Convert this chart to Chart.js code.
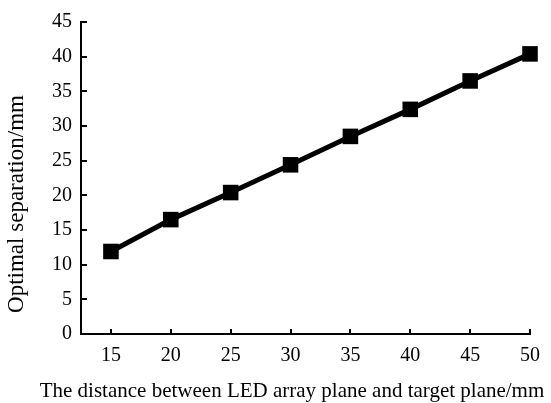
<!DOCTYPE html>
<html>
<head>
<meta charset="utf-8">
<script src="https://cdn.jsdelivr.net/npm/chart.js@4/dist/chart.umd.min.js"></script>
<style>
    html, body { margin: 0; padding: 0; background: #fff; }
    #wrap { width: 551px; height: 403px; position: relative; }
</style>
</head>
<body>
<div id="wrap"><canvas id="chart"></canvas></div>
<script>
// data
const distances = [15, 20, 25, 30, 35, 40, 45, 50];
const separation = [11.9, 16.5, 20.4, 24.4, 28.5, 32.4, 36.5, 40.4];
const xTicks = [15, 20, 25, 30, 35, 40, 45, 50];
const yTicks = [0, 5, 10, 15, 20, 25, 30, 35, 40, 45];
const xTitle = "The distance between LED array plane and target plane/mm";
const yTitle = "Optimal separation/mm";

const serif = "'Liberation Serif', 'Times New Roman', serif";

// tick marks pointing into the plot, and the two axis titles
const decorations = {
    id: "decorations",
    afterDraw(chart) {
        const ctx = chart.ctx;
        const x = chart.scales.x;
        const y = chart.scales.y;
        const area = chart.chartArea;

        ctx.save();
        ctx.strokeStyle = "#000";
        ctx.lineWidth = 2;
        ctx.beginPath();
        xTicks.forEach(v => {
            const px = Math.round(x.getPixelForValue(v));
            ctx.moveTo(px, area.bottom);
            ctx.lineTo(px, area.bottom - 5);
        });
        yTicks.forEach(v => {
            const py = Math.round(y.getPixelForValue(v));
            ctx.moveTo(area.left, py);
            ctx.lineTo(area.left + 6, py);
        });
        ctx.stroke();

        ctx.fillStyle = "#000";
        ctx.textAlign = "center";
        ctx.textBaseline = "middle";
        ctx.font = "21px " + serif;
        ctx.fillText(xTitle, 292, 391);

        ctx.font = "23px " + serif;
        ctx.translate(17, 204);
        ctx.rotate(-Math.PI / 2);
        ctx.fillText(yTitle, 0, 0);
        ctx.restore();
    }
};

new Chart(document.getElementById("chart"), {
    type: "line",
    data: {
        datasets: [{
            data: distances.map((d, i) => ({ x: d, y: separation[i] })),
            borderColor: "#000",
            borderWidth: 5,
            backgroundColor: "#000",
            pointStyle: "rect",
            pointRadius: 11,
            pointBorderWidth: 0,
            pointBackgroundColor: "#000",
            tension: 0,
            clip: false
        }]
    },
    options: {
        responsive: true,
        maintainAspectRatio: false,
        animation: false,
        layout: {
            padding: { top: 22, right: 21, left: 0, bottom: 0 }
        },
        plugins: {
            legend: { display: false },
            tooltip: { enabled: false }
        },
        scales: {
            x: {
                type: "linear",
                min: 12.5,
                max: 50,
                afterBuildTicks(scale) {
                    scale.ticks = xTicks.map(v => ({ value: v }));
                },
                afterFit(scale) {
                    scale.height = 69;
                },
                grid: { display: false, drawTicks: false },
                border: { display: true, color: "#000", width: 2 },
                ticks: {
                    color: "#000",
                    padding: 10,
                    autoSkip: false,
                    maxRotation: 0,
                    font: { family: serif, size: 20 }
                }
            },
            y: {
                min: 0,
                max: 45,
                afterBuildTicks(scale) {
                    scale.ticks = yTicks.map(v => ({ value: v }));
                },
                afterFit(scale) {
                    scale.width = 81;
                },
                grid: { display: false, drawTicks: false },
                border: { display: true, color: "#000", width: 2 },
                ticks: {
                    color: "#000",
                    padding: 9,
                    font: { family: serif, size: 20 }
                }
            }
        }
    },
    plugins: [decorations]
});
</script>
</body>
</html>
